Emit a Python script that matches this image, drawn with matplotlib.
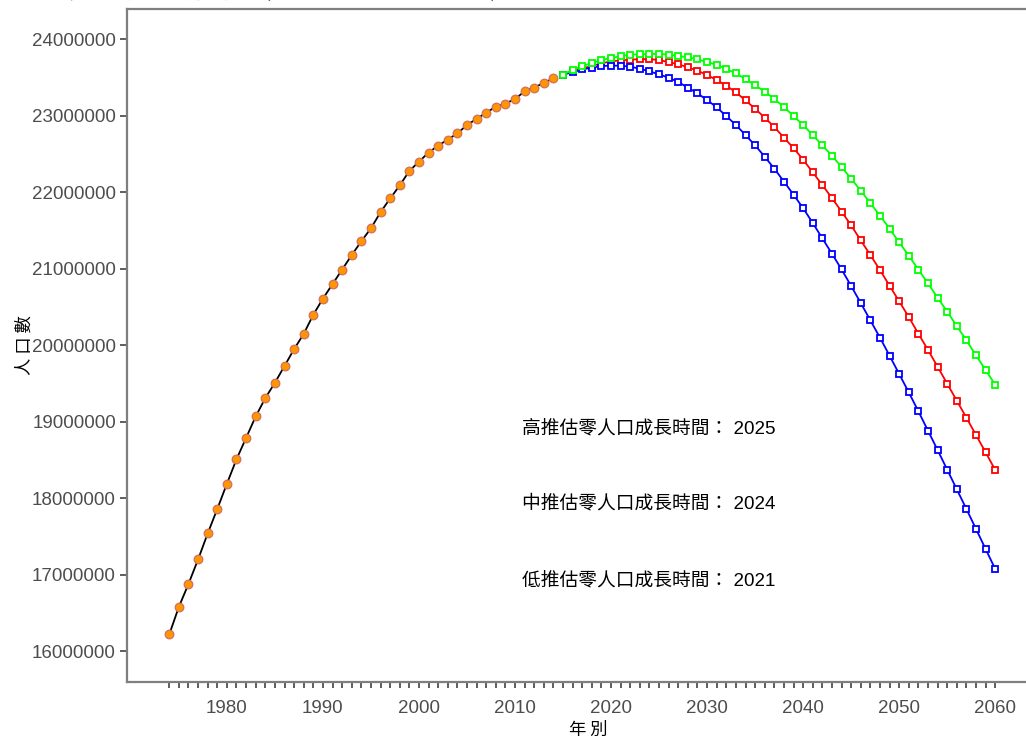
import numpy as np
import matplotlib.pyplot as plt

plt.rcParams['font.family'] = ['Liberation Sans', 'Noto Sans CJK TC', 'DejaVu Sans']
CJK = ['Noto Sans CJK TC', 'DejaVu Sans']

# 歷年人口（百萬人）
hist_years = list(range(1974, 2015))
hist_pop = [16.22, 16.58, 16.88, 17.20, 17.54, 17.86, 18.19, 18.51, 18.79, 19.07,
            19.31, 19.51, 19.73, 19.95, 20.15, 20.40, 20.61, 20.80, 20.99, 21.18,
            21.36, 21.53, 21.74, 21.92, 22.09, 22.28, 22.40, 22.52, 22.61, 22.69,
            22.77, 22.88, 22.96, 23.04, 23.12, 23.16, 23.22, 23.32, 23.37, 23.43,
            23.49]

# 推估人口（百萬人）
proj_years = list(range(2015, 2061))
high_pop = [23.54, 23.60, 23.65, 23.69, 23.73, 23.755, 23.78, 23.80, 23.805, 23.808,
            23.81, 23.80, 23.782, 23.765, 23.738, 23.703, 23.668, 23.612, 23.555, 23.481,
            23.403, 23.315, 23.220, 23.115, 22.997, 22.880, 22.749, 22.614, 22.479, 22.331,
            22.178, 22.021, 21.860, 21.694, 21.525, 21.346, 21.172, 20.989, 20.810, 20.623,
            20.440, 20.252, 20.065, 19.869, 19.677, 19.485]
mid_pop = [23.54, 23.586, 23.621, 23.651, 23.686, 23.712, 23.725, 23.736, 23.740, 23.742,
           23.728, 23.703, 23.673, 23.634, 23.590, 23.533, 23.468, 23.394, 23.307, 23.202,
           23.093, 22.976, 22.854, 22.714, 22.579, 22.427, 22.261, 22.095, 21.925, 21.749,
           21.568, 21.372, 21.180, 20.984, 20.779, 20.575, 20.370, 20.152, 19.939, 19.721,
           19.498, 19.276, 19.054, 18.827, 18.601, 18.370]
low_pop = [23.54, 23.568, 23.607, 23.629, 23.651, 23.655, 23.656, 23.642, 23.616, 23.581,
           23.542, 23.498, 23.442, 23.368, 23.294, 23.207, 23.111, 22.997, 22.880, 22.749,
           22.614, 22.466, 22.309, 22.141, 21.969, 21.793, 21.599, 21.398, 21.198, 20.993,
           20.775, 20.553, 20.326, 20.100, 19.864, 19.625, 19.385, 19.137, 18.884, 18.631,
           18.374, 18.117, 17.860, 17.599, 17.337, 17.076]

zero_labels = ['高推估零人口成長時間：', '中推估零人口成長時間：', '低推估零人口成長時間：']
zero_years = [2025, 2024, 2021]

hist = np.array(hist_pop) * 1e6
high = np.array(high_pop) * 1e6
mid = np.array(mid_pop) * 1e6
low = np.array(low_pop) * 1e6

fig = plt.figure(figsize=(10.26, 7.38), dpi=100)
# 繪圖區右緣超出畫布，右框線不顯示
ax = fig.add_axes([127 / 1026, 1 - 681.5 / 738, (1049 - 127) / 1026, (681.5 - 8.5) / 738])

sq = dict(marker='s', ms=4.6, mew=1.3, mfc='white', lw=1.3)
ax.plot(proj_years, mid, color='#FF0000', mec='#FF0000', **sq)
ax.plot(proj_years, low, color='#0000FF', mec='#0000FF', **sq)
ax.plot(proj_years, high, color='#00FF00', mec='#00FF00', **sq)
ax.plot(hist_years, hist, color='black', lw=1.3, marker='o', ms=6.2,
        mfc='#FF9500', mec='#D2705A', mew=0.9)

text_y = [18.91e6, 17.93e6, 16.92e6]
for lab, yr, ty in zip(zero_labels, zero_years, text_y):
    ax.text(2023.9, ty, f'{lab} {yr}', ha='center', va='center',
            fontsize=13.5, color='black')

ax.set_xlim(1969.6, 2065.6)
ax.set_ylim(15.605e6, 24.403e6)

ax.set_xticks(range(1980, 2061, 10))
ax.set_xticks(range(1974, 2061), minor=True)
ax.set_yticks(np.arange(16, 24.5, 1) * 1e6)
ax.set_yticklabels([f'{int(v)}' for v in np.arange(16, 24.5, 1) * 1e6])

ax.tick_params(axis='x', which='both', length=4, width=1.1, color='#333333',
               labelsize=13.5, labelcolor='#4D4D4D', pad=9)
ax.tick_params(axis='y', length=5, width=1.1, color='#333333',
               labelsize=13.5, labelcolor='#4D4D4D', pad=3)

for side in ['left', 'bottom', 'top']:
    ax.spines[side].set_color('#7F7F7F')
    ax.spines[side].set_linewidth(1.6)
ax.spines['right'].set_visible(False)

ax.set_xlabel('年 別', family=CJK, fontsize=12.5, labelpad=3)
ax.set_ylabel('人 口 數', family=CJK, fontsize=12.5, labelpad=-1)

fig.text(0.01, 1 + 2 / 738, '中華民國人口推估（2014年至2060年）', family=CJK,
         fontsize=21, va='baseline', ha='left')

fig.savefig('out.png', dpi=100)
